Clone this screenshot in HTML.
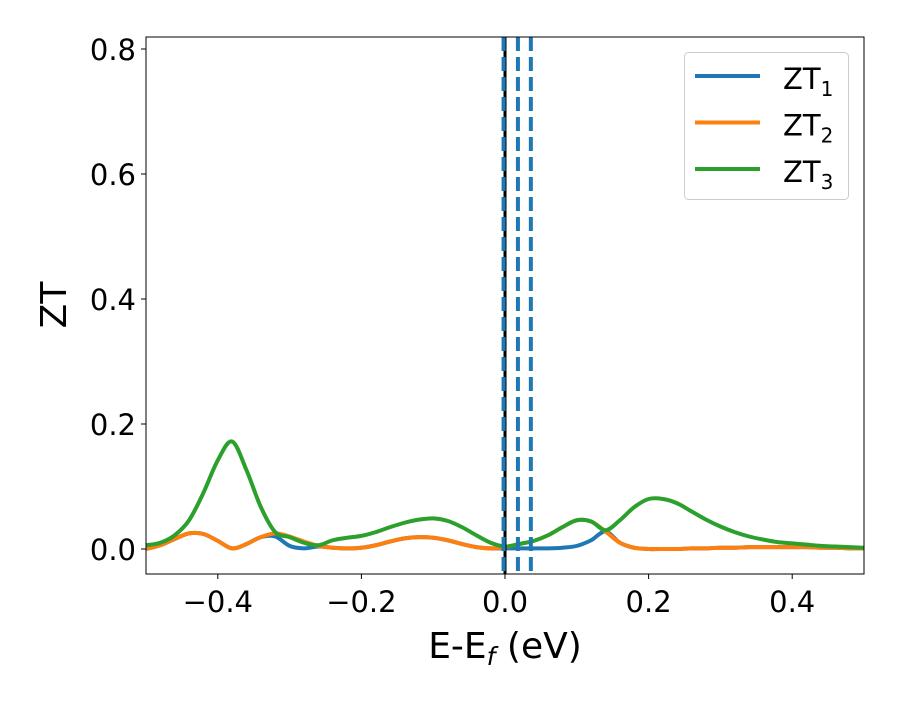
<!DOCTYPE html>
<html><head><meta charset="utf-8"><style>
body{margin:0;background:#fff}
svg text{font-family:"DejaVu Sans","Liberation Sans",sans-serif;fill:#000}
</style></head><body>
<svg id="chart" width="900" height="700" xmlns="http://www.w3.org/2000/svg">
<g id="plot"></g>
</svg>
<script>
const xs=[];for(let i=0;i<=50;i++)xs.push(-0.5+i*0.02);
const zt3=[0.006,0.01,0.022,0.046,0.09,0.142,0.172,0.126,0.067,0.027,0.019,0.01,0.006,0.014,0.018,0.021,0.027,0.035,0.042,0.047,0.049,0.045,0.035,0.022,0.01,0.004,0.008,0.013,0.022,0.035,0.046,0.044,0.03,0.046,0.067,0.08,0.08,0.073,0.06,0.047,0.036,0.027,0.02,0.015,0.011,0.009,0.007,0.005,0.004,0.003,0.002];
const zt2=[0.0,0.006,0.016,0.025,0.024,0.013,0.001,0.008,0.019,0.025,0.02,0.012,0.005,0.002,0.001,0.002,0.006,0.012,0.017,0.019,0.018,0.014,0.008,0.003,0.001,0.003,0.008,0.013,0.022,0.035,0.046,0.044,0.028,0.01,0.002,0.0,0.0,0.0,0.001,0.001,0.002,0.002,0.003,0.003,0.003,0.003,0.003,0.002,0.002,0.001,0.001];
const zt1=[0.0,0.006,0.016,0.025,0.024,0.013,0.001,0.008,0.019,0.02,0.005,0.001,0.004,0.002,0.001,0.002,0.006,0.012,0.017,0.019,0.018,0.014,0.008,0.003,0.001,0.001,0.001,0.001,0.001,0.002,0.005,0.014,0.028,0.01,0.002,0.0,0.0,0.0,0.001,0.001,0.002,0.002,0.003,0.003,0.003,0.003,0.003,0.002,0.002,0.001,0.001];
const xTicks=[-0.4,-0.2,0.0,0.2,0.4];
const xTickLabels=["\u22120.4","\u22120.2","0.0","0.2","0.4"];
const yTicks=[0,0.2,0.4,0.6,0.8];
const yTickLabels=["0.0","0.2","0.4","0.6","0.8"];
const vDashed=[-0.002,0.018,0.036];
const L=146,R=864,T=37,B=574;
const X=v=>L+(v+0.5)/1.0*(R-L);
const Y=v=>549-v*625;
const NS="http://www.w3.org/2000/svg";
const svg=document.getElementById('chart');
function mk(tag,attrs,parent){const e=document.createElementNS(NS,tag);for(const k in attrs)e.setAttribute(k,attrs[k]);(parent||svg).appendChild(e);return e;}
function smooth(pts){
 let d='M'+pts[0][0]+','+pts[0][1];
 for(let i=0;i<pts.length-1;i++){
  const p0=pts[Math.max(0,i-1)],p1=pts[i],p2=pts[i+1],p3=pts[Math.min(pts.length-1,i+2)];
  const c1=[p1[0]+(p2[0]-p0[0])/6,p1[1]+(p2[1]-p0[1])/6];
  const c2=[p2[0]-(p3[0]-p1[0])/6,p2[1]-(p3[1]-p1[1])/6];
  d+='C'+c1[0]+','+c1[1]+' '+c2[0]+','+c2[1]+' '+p2[0]+','+p2[1];
 }
 return d;
}
const clip=mk('clipPath',{id:'c'});mk('rect',{x:L,y:T,width:R-L,height:B-T},clip);
const g=mk('g',{'clip-path':'url(#c)'});


const series=[[zt1,'#1f77b4','zt1-line'],[zt2,'#ff7f0e','zt2-line'],[zt3,'#2ca02c','zt3-line']];
series.forEach(s=>{
 const p=mk('path',{d:smooth(xs.map((x,i)=>[X(x),Y(s[0][i])])),fill:'none',stroke:s[1],'stroke-width':4,'stroke-linejoin':'round'},g);
 
 
});
const bl=mk('line',{x1:X(0),x2:X(0),y1:T,y2:B,stroke:'#000','stroke-width':3},g);


vDashed.forEach((v,i)=>{
 const l=mk('line',{x1:X(v),x2:X(v),y1:T,y2:B,stroke:'#1f77b4','stroke-width':4,'stroke-dasharray':'14,6'},g);
 
 
});
const fr=mk('rect',{x:L,y:T,width:R-L,height:B-T,fill:'none',stroke:'#000','stroke-width':1});


xTicks.forEach((v,i)=>{
 mk('line',{x1:X(v),x2:X(v),y1:B,y2:B+5,stroke:'#000'});
 const t=mk('text',{x:X(v),y:B+38,'text-anchor':'middle','font-size':29});t.textContent=xTickLabels[i];
 
 
});
yTicks.forEach((v,i)=>{
 mk('line',{x1:L,x2:L-5,y1:Y(v),y2:Y(v),stroke:'#000'});
 const t=mk('text',{x:L-10,y:Y(v)+11,'text-anchor':'end','font-size':29});t.textContent=yTickLabels[i];
 
 
});
const xt=mk('text',{x:505,y:658,'text-anchor':'middle','font-size':36});
xt.innerHTML='E-E<tspan font-style="italic" font-size="25" dy="7">f</tspan><tspan dy="-7"> (eV)</tspan>';


const yt=mk('text',{x:0,y:0,'text-anchor':'middle','font-size':36,transform:'translate(66,305) rotate(-90)'});
yt.textContent='ZT';


const lg=mk('g',{});


mk('rect',{x:684.5,y:52.5,width:164,height:147,rx:4,fill:'#fff',stroke:'#ccc','stroke-width':1},lg);
series.forEach((s,i)=>{
 const y=76+i*46.5;
 const ln=mk('line',{x1:695,x2:760,y1:y,y2:y,stroke:s[1],'stroke-width':4},lg);
 
 
 const t=mk('text',{x:783,y:y+13,'font-size':29},lg);
 t.innerHTML='ZT<tspan font-size="20" dy="7">'+(i+1)+'</tspan>';
 
 
});
</script>
</body></html>
